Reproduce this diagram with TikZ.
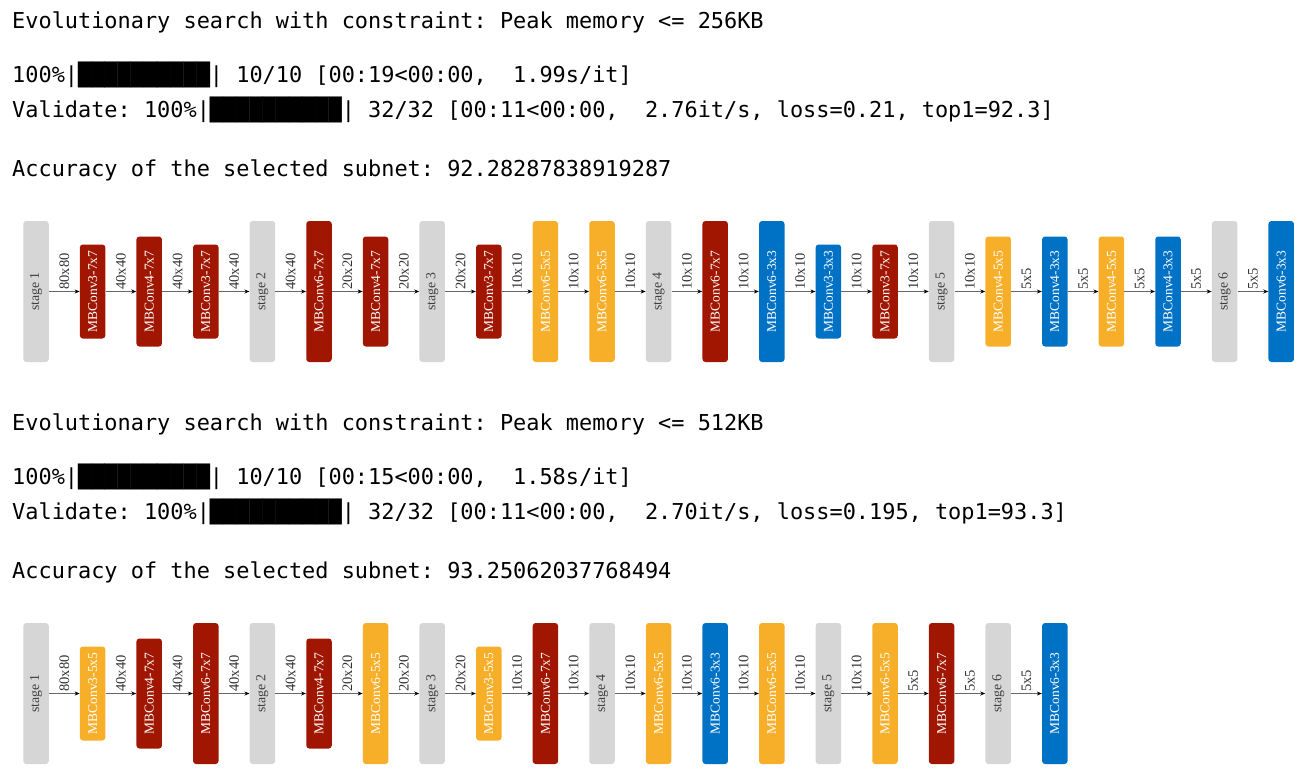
\documentclass[tikz,border=0pt]{standalone}
\usepackage{fontspec}
\setmainfont{Liberation Serif}
\setmonofont{DejaVu Sans Mono}
\usepackage{xcolor}
\usetikzlibrary{arrows.meta, positioning}

\definecolor{stagegray}{RGB}{214,214,214}
\definecolor{convred}{RGB}{160,22,0}
\definecolor{convorange}{RGB}{247,175,42}
\definecolor{convblue}{RGB}{0,114,198}

\begin{document}
\begin{tikzpicture}[x=1pt, y=-1pt,
        logline/.style = {anchor=base west, inner sep=0pt, font=\fontsize{21.9}{26}\ttfamily},
        stagebox/.style = {rectangle, rounded corners=3pt, fill=stagegray, rotate=90, minimum width=141pt, minimum height=25.5pt, inner sep=0pt, text=black!75, font=\fontsize{13.8}{14}\selectfont},
        mbconv/.style = {rectangle, rounded corners=3pt, rotate=90, minimum height=25.5pt, inner sep=0pt, text=white, font=\fontsize{13.5}{14}\selectfont},
        exp3/.style = {minimum width=94pt},
        exp4/.style = {minimum width=110pt},
        exp6/.style = {minimum width=141pt},
        ker3/.style = {fill=convblue},
        ker5/.style = {fill=convorange},
        ker7/.style = {fill=convred},
        link/.style = {draw=black!60, line width=0.9pt, -{Stealth[length=5pt, width=4pt, color=black]}},
        dimlabel/.style = {rotate=90, anchor=west, inner sep=1.5pt, text=black!80, font=\fontsize{14.5}{15}\selectfont}
    ]
    \useasboundingbox (0,0) rectangle (1312,780);

    \node[logline] (title256) at (12,28.5) {Evolutionary search with constraint: Peak memory <= 256KB};
    \node[logline] (search256) at (12,82.5) {100\%|██████████| 10/10 [00:19<00:00,\ \ 1.99s/it]};
    \node[logline] (valid256) at (12,117.5) {Validate: 100\%|██████████| 32/32 [00:11<00:00,\ \ 2.76it/s, loss=0.21, top1=92.3]};
    \node[logline] (acc256) at (12,176.5) {Accuracy of the selected subnet: 92.28287838919287};

    \begin{scope}[shift={(0,291.5)}]
        \node[stagebox] (top0) at (36,0) {stage 1};
        \node[mbconv, exp3, ker7] (top1) at (92.6,0) {MBConv3-7x7};
        \node[mbconv, exp4, ker7] (top2) at (149.2,0) {MBConv4-7x7};
        \node[mbconv, exp3, ker7] (top3) at (205.8,0) {MBConv3-7x7};
        \node[stagebox] (top4) at (262.4,0) {stage 2};
        \node[mbconv, exp6, ker7] (top5) at (319,0) {MBConv6-7x7};
        \node[mbconv, exp4, ker7] (top6) at (375.6,0) {MBConv4-7x7};
        \node[stagebox] (top7) at (432.2,0) {stage 3};
        \node[mbconv, exp3, ker7] (top8) at (488.8,0) {MBConv3-7x7};
        \node[mbconv, exp6, ker5] (top9) at (545.4,0) {MBConv6-5x5};
        \node[mbconv, exp6, ker5] (top10) at (602,0) {MBConv6-5x5};
        \node[stagebox] (top11) at (658.6,0) {stage 4};
        \node[mbconv, exp6, ker7] (top12) at (715.2,0) {MBConv6-7x7};
        \node[mbconv, exp6, ker3] (top13) at (771.8,0) {MBConv6-3x3};
        \node[mbconv, exp3, ker3] (top14) at (828.4,0) {MBConv3-3x3};
        \node[mbconv, exp3, ker7] (top15) at (885,0) {MBConv3-7x7};
        \node[stagebox] (top16) at (941.6,0) {stage 5};
        \node[mbconv, exp4, ker5] (top17) at (998.2,0) {MBConv4-5x5};
        \node[mbconv, exp4, ker3] (top18) at (1054.8,0) {MBConv4-3x3};
        \node[mbconv, exp4, ker5] (top19) at (1111.4,0) {MBConv4-5x5};
        \node[mbconv, exp4, ker3] (top20) at (1168,0) {MBConv4-3x3};
        \node[stagebox] (top21) at (1224.6,0) {stage 6};
        \node[mbconv, exp6, ker3] (top22) at (1281.2,0) {MBConv6-3x3};

        \draw[link] (top0) -- node[dimlabel] {80x80} (top1);
        \draw[link] (top1) -- node[dimlabel] {40x40} (top2);
        \draw[link] (top2) -- node[dimlabel] {40x40} (top3);
        \draw[link] (top3) -- node[dimlabel] {40x40} (top4);
        \draw[link] (top4) -- node[dimlabel] {40x40} (top5);
        \draw[link] (top5) -- node[dimlabel] {20x20} (top6);
        \draw[link] (top6) -- node[dimlabel] {20x20} (top7);
        \draw[link] (top7) -- node[dimlabel] {20x20} (top8);
        \draw[link] (top8) -- node[dimlabel] {10x10} (top9);
        \draw[link] (top9) -- node[dimlabel] {10x10} (top10);
        \draw[link] (top10) -- node[dimlabel] {10x10} (top11);
        \draw[link] (top11) -- node[dimlabel] {10x10} (top12);
        \draw[link] (top12) -- node[dimlabel] {10x10} (top13);
        \draw[link] (top13) -- node[dimlabel] {10x10} (top14);
        \draw[link] (top14) -- node[dimlabel] {10x10} (top15);
        \draw[link] (top15) -- node[dimlabel] {10x10} (top16);
        \draw[link] (top16) -- node[dimlabel] {10x10} (top17);
        \draw[link] (top17) -- node[dimlabel] {5x5} (top18);
        \draw[link] (top18) -- node[dimlabel] {5x5} (top19);
        \draw[link] (top19) -- node[dimlabel] {5x5} (top20);
        \draw[link] (top20) -- node[dimlabel] {5x5} (top21);
        \draw[link] (top21) -- node[dimlabel] {5x5} (top22);
    \end{scope}

    \node[logline] (title512) at (12,430.5) {Evolutionary search with constraint: Peak memory <= 512KB};
    \node[logline] (search512) at (12,484.5) {100\%|██████████| 10/10 [00:15<00:00,\ \ 1.58s/it]};
    \node[logline] (valid512) at (12,519.5) {Validate: 100\%|██████████| 32/32 [00:11<00:00,\ \ 2.70it/s, loss=0.195, top1=93.3]};
    \node[logline] (acc512) at (12,578.5) {Accuracy of the selected subnet: 93.25062037768494};

    \begin{scope}[shift={(0,693.5)}]
        \node[stagebox] (bot0) at (36,0) {stage 1};
        \node[mbconv, exp3, ker5] (bot1) at (92.6,0) {MBConv3-5x5};
        \node[mbconv, exp4, ker7] (bot2) at (149.2,0) {MBConv4-7x7};
        \node[mbconv, exp6, ker7] (bot3) at (205.8,0) {MBConv6-7x7};
        \node[stagebox] (bot4) at (262.4,0) {stage 2};
        \node[mbconv, exp4, ker7] (bot5) at (319,0) {MBConv4-7x7};
        \node[mbconv, exp6, ker5] (bot6) at (375.6,0) {MBConv6-5x5};
        \node[stagebox] (bot7) at (432.2,0) {stage 3};
        \node[mbconv, exp3, ker5] (bot8) at (488.8,0) {MBConv3-5x5};
        \node[mbconv, exp6, ker7] (bot9) at (545.4,0) {MBConv6-7x7};
        \node[stagebox] (bot10) at (602,0) {stage 4};
        \node[mbconv, exp6, ker5] (bot11) at (658.6,0) {MBConv6-5x5};
        \node[mbconv, exp6, ker3] (bot12) at (715.2,0) {MBConv6-3x3};
        \node[mbconv, exp6, ker5] (bot13) at (771.8,0) {MBConv6-5x5};
        \node[stagebox] (bot14) at (828.4,0) {stage 5};
        \node[mbconv, exp6, ker5] (bot15) at (885,0) {MBConv6-5x5};
        \node[mbconv, exp6, ker7] (bot16) at (941.6,0) {MBConv6-7x7};
        \node[stagebox] (bot17) at (998.2,0) {stage 6};
        \node[mbconv, exp6, ker3] (bot18) at (1054.8,0) {MBConv6-3x3};

        \draw[link] (bot0) -- node[dimlabel] {80x80} (bot1);
        \draw[link] (bot1) -- node[dimlabel] {40x40} (bot2);
        \draw[link] (bot2) -- node[dimlabel] {40x40} (bot3);
        \draw[link] (bot3) -- node[dimlabel] {40x40} (bot4);
        \draw[link] (bot4) -- node[dimlabel] {40x40} (bot5);
        \draw[link] (bot5) -- node[dimlabel] {20x20} (bot6);
        \draw[link] (bot6) -- node[dimlabel] {20x20} (bot7);
        \draw[link] (bot7) -- node[dimlabel] {20x20} (bot8);
        \draw[link] (bot8) -- node[dimlabel] {10x10} (bot9);
        \draw[link] (bot9) -- node[dimlabel] {10x10} (bot10);
        \draw[link] (bot10) -- node[dimlabel] {10x10} (bot11);
        \draw[link] (bot11) -- node[dimlabel] {10x10} (bot12);
        \draw[link] (bot12) -- node[dimlabel] {10x10} (bot13);
        \draw[link] (bot13) -- node[dimlabel] {10x10} (bot14);
        \draw[link] (bot14) -- node[dimlabel] {10x10} (bot15);
        \draw[link] (bot15) -- node[dimlabel] {5x5} (bot16);
        \draw[link] (bot16) -- node[dimlabel] {5x5} (bot17);
        \draw[link] (bot17) -- node[dimlabel] {5x5} (bot18);
    \end{scope}

\end{tikzpicture}
\end{document}
